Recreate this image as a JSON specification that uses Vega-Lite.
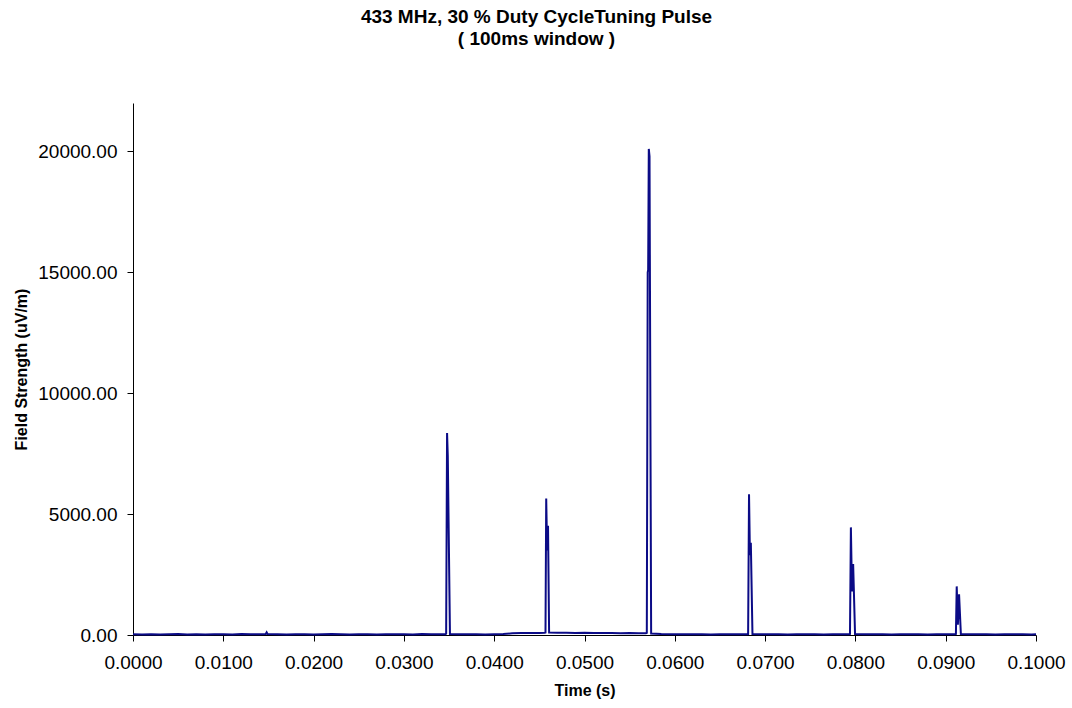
{
  "$schema": "https://vega.github.io/schema/vega-lite/v6.json",
  "width": 903,
  "height": 532,
  "autosize": {"type": "none"},
  "padding": {"left": 133, "top": 103, "right": 36, "bottom": 73},
  "background": "white",
  "config": {"view": {"stroke": null}, "font": "Liberation Sans"},
  "title": {
    "text": ["433 MHz, 30 % Duty CycleTuning Pulse", "( 100ms window )"],
    "font": "Liberation Sans",
    "fontSize": 19,
    "fontWeight": "bold",
    "lineHeight": 22,
    "color": "black",
    "anchor": "middle",
    "dx": -48,
    "offset": 54
  },
  "data": {
    "values": [
      {"t": 0.0000, "v": 30}, {"t": 0.0010, "v": 20}, {"t": 0.0020, "v": 35}, {"t": 0.0030, "v": 25},
      {"t": 0.0040, "v": 30}, {"t": 0.0050, "v": 40}, {"t": 0.0060, "v": 25}, {"t": 0.0070, "v": 30},
      {"t": 0.0080, "v": 20}, {"t": 0.0090, "v": 35}, {"t": 0.0100, "v": 30}, {"t": 0.0110, "v": 25},
      {"t": 0.0120, "v": 40}, {"t": 0.0130, "v": 30}, {"t": 0.0140, "v": 35}, {"t": 0.0147, "v": 40},
      {"t": 0.0148, "v": 110}, {"t": 0.0149, "v": 40}, {"t": 0.0160, "v": 30}, {"t": 0.0170, "v": 25},
      {"t": 0.0180, "v": 35}, {"t": 0.0190, "v": 30}, {"t": 0.0200, "v": 25}, {"t": 0.0210, "v": 30},
      {"t": 0.0220, "v": 40}, {"t": 0.0230, "v": 30}, {"t": 0.0240, "v": 25}, {"t": 0.0250, "v": 35},
      {"t": 0.0260, "v": 30}, {"t": 0.0270, "v": 25}, {"t": 0.0280, "v": 30}, {"t": 0.0290, "v": 35},
      {"t": 0.0300, "v": 30}, {"t": 0.0310, "v": 25}, {"t": 0.0320, "v": 40}, {"t": 0.0330, "v": 30},
      {"t": 0.0340, "v": 35}, {"t": 0.0346, "v": 30},
      {"t": 0.03468, "v": 60}, {"t": 0.03478, "v": 8350}, {"t": 0.03486, "v": 7400}, {"t": 0.03510, "v": 40},
      {"t": 0.0360, "v": 30}, {"t": 0.0370, "v": 35}, {"t": 0.0380, "v": 30}, {"t": 0.0390, "v": 25},
      {"t": 0.0400, "v": 35}, {"t": 0.0410, "v": 40}, {"t": 0.0420, "v": 70}, {"t": 0.0430, "v": 80},
      {"t": 0.0440, "v": 85}, {"t": 0.0450, "v": 80}, {"t": 0.0456, "v": 90},
      {"t": 0.04568, "v": 100}, {"t": 0.04576, "v": 5640}, {"t": 0.04586, "v": 3500}, {"t": 0.04596, "v": 4520}, {"t": 0.04608, "v": 100},
      {"t": 0.0470, "v": 95}, {"t": 0.0480, "v": 90}, {"t": 0.0490, "v": 85}, {"t": 0.0500, "v": 90},
      {"t": 0.0510, "v": 80}, {"t": 0.0520, "v": 85}, {"t": 0.0530, "v": 80}, {"t": 0.0540, "v": 75},
      {"t": 0.0550, "v": 80}, {"t": 0.0560, "v": 70}, {"t": 0.0568, "v": 70},
      {"t": 0.05690, "v": 90}, {"t": 0.05700, "v": 15000}, {"t": 0.05705, "v": 15100}, {"t": 0.05712, "v": 20100},
      {"t": 0.05720, "v": 19800}, {"t": 0.05738, "v": 60},
      {"t": 0.0585, "v": 40}, {"t": 0.0600, "v": 35}, {"t": 0.0610, "v": 30}, {"t": 0.0620, "v": 35},
      {"t": 0.0630, "v": 30}, {"t": 0.0640, "v": 25}, {"t": 0.0650, "v": 35}, {"t": 0.0660, "v": 30},
      {"t": 0.0670, "v": 30}, {"t": 0.0680, "v": 35},
      {"t": 0.06812, "v": 40}, {"t": 0.06822, "v": 5820}, {"t": 0.06832, "v": 3300}, {"t": 0.06842, "v": 3810}, {"t": 0.06860, "v": 40},
      {"t": 0.0695, "v": 30}, {"t": 0.0705, "v": 35}, {"t": 0.0715, "v": 30}, {"t": 0.0725, "v": 25},
      {"t": 0.0735, "v": 35}, {"t": 0.0745, "v": 30}, {"t": 0.0755, "v": 30}, {"t": 0.0765, "v": 25},
      {"t": 0.0775, "v": 35}, {"t": 0.0785, "v": 30}, {"t": 0.0793, "v": 30},
      {"t": 0.07940, "v": 40}, {"t": 0.07950, "v": 4450}, {"t": 0.07962, "v": 1800}, {"t": 0.07975, "v": 2940}, {"t": 0.07996, "v": 40},
      {"t": 0.0810, "v": 30}, {"t": 0.0820, "v": 35}, {"t": 0.0830, "v": 30}, {"t": 0.0840, "v": 25},
      {"t": 0.0850, "v": 35}, {"t": 0.0860, "v": 30}, {"t": 0.0870, "v": 30}, {"t": 0.0880, "v": 25},
      {"t": 0.0890, "v": 35}, {"t": 0.0900, "v": 30}, {"t": 0.0910, "v": 30},
      {"t": 0.09113, "v": 40}, {"t": 0.09122, "v": 2010}, {"t": 0.09135, "v": 430}, {"t": 0.09148, "v": 1680}, {"t": 0.09168, "v": 40},
      {"t": 0.0925, "v": 30}, {"t": 0.0935, "v": 35}, {"t": 0.0945, "v": 30}, {"t": 0.0955, "v": 25},
      {"t": 0.0965, "v": 30}, {"t": 0.0975, "v": 35}, {"t": 0.0985, "v": 30}, {"t": 0.0995, "v": 25},
      {"t": 0.1000, "v": 30}
    ]
  },
  "mark": {"type": "line", "color": "#0b0b86", "strokeWidth": 2, "interpolate": "linear"},
  "encoding": {
    "x": {
      "field": "t",
      "type": "quantitative",
      "scale": {"domain": [0, 0.1], "nice": false, "zero": false},
      "axis": {
        "title": "Time (s)",
        "values": [0, 0.01, 0.02, 0.03, 0.04, 0.05, 0.06, 0.07, 0.08, 0.09, 0.1],
        "format": ".4f",
        "grid": false,
        "domainColor": "black",
        "domainWidth": 1,
        "tickColor": "black",
        "tickSize": 6,
        "labelFont": "Liberation Sans",
        "labelFontSize": 19,
        "labelColor": "black",
        "labelPadding": 12,
        "labelFlush": false,
        "labelOverlap": false,
        "titleFont": "Liberation Sans",
        "titleFontSize": 16,
        "titleFontWeight": "bold",
        "titleColor": "black",
        "titlePadding": 10
      }
    },
    "y": {
      "field": "v",
      "type": "quantitative",
      "scale": {"domain": [0, 22000], "nice": false},
      "axis": {
        "title": "Field Strength (uV/m)",
        "values": [0, 5000, 10000, 15000, 20000],
        "format": ".2f",
        "grid": false,
        "domainColor": "black",
        "domainWidth": 1,
        "tickColor": "black",
        "tickSize": 6,
        "labelFont": "Liberation Sans",
        "labelFontSize": 19,
        "labelColor": "black",
        "labelPadding": 10,
        "labelFlush": false,
        "titleFont": "Liberation Sans",
        "titleFontSize": 16,
        "titleFontWeight": "bold",
        "titleColor": "black",
        "titlePadding": 8
      }
    }
  }
}
